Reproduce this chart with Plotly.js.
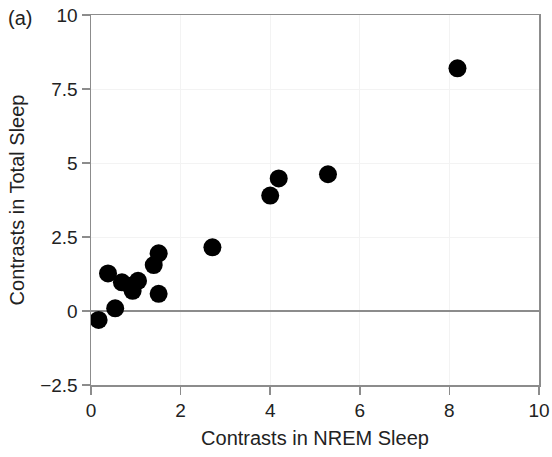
<!DOCTYPE html>
<html><head><meta charset="utf-8">
<script src="https://cdn.plot.ly/plotly-3.0.1.min.js"></script>
<style>html,body{margin:0;padding:0;background:#fff}#c{width:552px;height:457px}</style>
</head><body><div id="c"></div>
<script>
const nremContrast = [0.17, 0.54, 0.38, 0.69, 0.93, 1.05, 0.88, 1.40, 1.51, 1.51, 2.71, 4.00, 4.19, 5.29, 8.18];
const totalContrast = [-0.30, 0.09, 1.27, 0.97, 0.68, 1.02, 0.85, 1.55, 1.95, 0.58, 2.15, 3.90, 4.48, 4.62, 8.20];
const xTicks = [0, 2, 4, 6, 8, 10];
const yTicks = [-2.5, 0, 2.5, 5, 7.5, 10];
const yTickText = ['\u22122.5', '0', '2.5', '5', '7.5', '10'];

const axisCommon = {
  showline: true, linecolor: '#8c8c8c', linewidth: 1.5, mirror: true,
  ticks: 'outside', ticklen: 8, tickcolor: '#8c8c8c', tickwidth: 1.5,
  showgrid: true, gridcolor: '#f3f3f3', gridwidth: 1,
  tickfont: {size: 19, color: '#222'}
};

Plotly.newPlot('c', [{
  x: nremContrast, y: totalContrast, type: 'scatter', mode: 'markers',
  marker: {color: '#000', size: 18}
}], {
  width: 552, height: 457,
  margin: {l: 91, r: 13, t: 15, b: 72},
  paper_bgcolor: '#fff', plot_bgcolor: '#fff',
  font: {family: 'Liberation Sans, Arial, sans-serif', color: '#222'},
  showlegend: false,
  xaxis: Object.assign({}, axisCommon, {
    range: [0, 10], tickvals: xTicks, zeroline: false,
    title: {text: 'Contrasts in NREM Sleep', font: {size: 20, color: '#222'}, standoff: 10}
  }),
  yaxis: Object.assign({}, axisCommon, {
    range: [-2.5, 10], tickvals: yTicks, ticktext: yTickText,
    zeroline: true, zerolinecolor: '#8c8c8c', zerolinewidth: 1.5,
    title: {text: 'Contrasts in Total Sleep', font: {size: 20, color: '#222'}, standoff: 10}
  }),
  annotations: [{text: '(a)', xref: 'paper', yref: 'paper', x: -0.189, y: 0.993, xanchor: 'left', yanchor: 'middle', showarrow: false, font: {size: 20, color: '#222'}}]
}, {staticPlot: true});
</script></body></html>
